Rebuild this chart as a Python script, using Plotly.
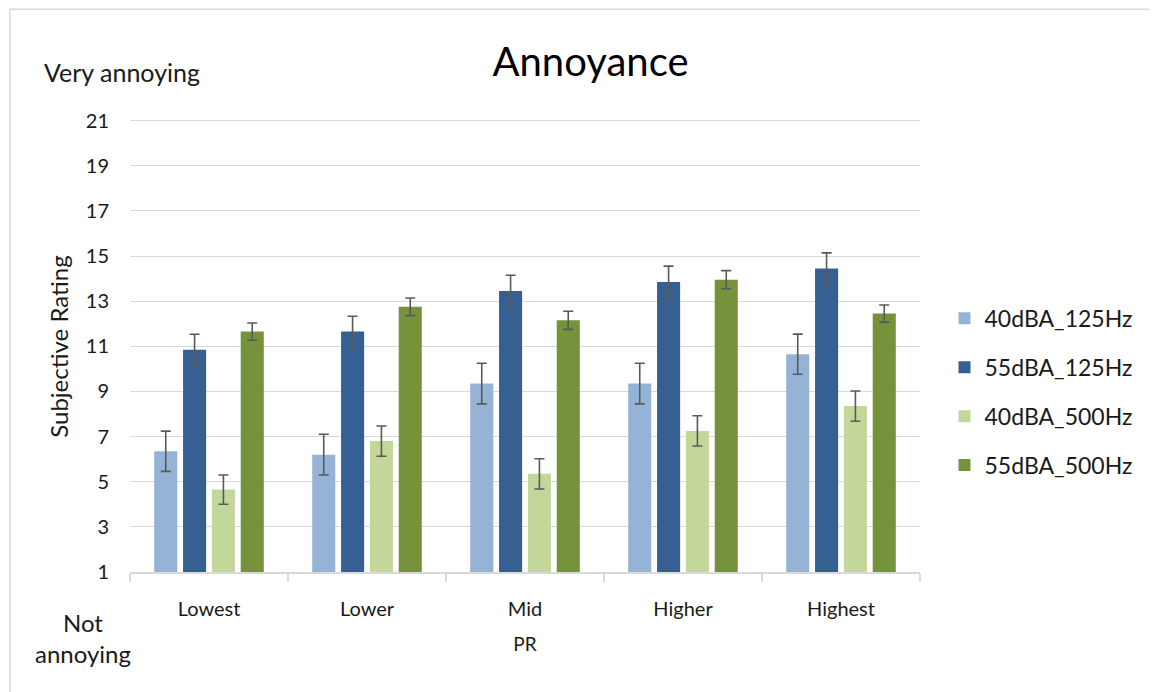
import plotly.graph_objects as go

categories = ["Lowest", "Lower", "Mid", "Higher", "Highest"]
series_names = ["40dBA_125Hz", "55dBA_125Hz", "40dBA_500Hz", "55dBA_500Hz"]
vals_40_125 = [6.35, 6.2, 9.35, 9.35, 10.65]
vals_55_125 = [10.85, 11.65, 13.45, 13.85, 14.45]
vals_40_500 = [4.65, 6.8, 5.35, 7.25, 8.35]
vals_55_500 = [11.65, 12.75, 12.15, 13.95, 12.45]
err_40_125 = [0.89, 0.9, 0.9, 0.9, 0.89]
err_55_125 = [0.68, 0.68, 0.7, 0.7, 0.69]
err_40_500 = [0.65, 0.67, 0.67, 0.67, 0.67]
err_55_500 = [0.38, 0.39, 0.4, 0.4, 0.38]
y_ticks = [1, 3, 5, 7, 9, 11, 13, 15, 17, 19, 21]

colors = ["#95B3D7", "#366092", "#C4D79B", "#76933C"]
values = [vals_40_125, vals_55_125, vals_40_500, vals_55_500]
errors = [err_40_125, err_55_125, err_40_500, err_55_500]

FONT = "Lato, 'Open Sans', sans-serif"
TXT = "#1a1a1a"

fig = go.Figure()
for i, name in enumerate(series_names):
    fig.add_trace(go.Bar(
        x=categories, y=values[i], name=name,
        marker=dict(color=colors[i], line=dict(width=0)),
        error_y=dict(type="data", array=errors[i], visible=True,
                     color="#595959", thickness=1.6, width=5),
        legendgroup=name,
    ))

fig.update_layout(
    width=1149, height=684,
    margin=dict(l=122, r=237, t=90, b=120),
    paper_bgcolor="white", plot_bgcolor="white",
    barmode="group", bargap=0.27, bargroupgap=0.2,
    font=dict(family=FONT, size=20, color=TXT),
    title=dict(text="Annoyance", x=0.507, xanchor="center", y=0.921, yanchor="middle",
               font=dict(family=FONT, size=40, color="#000000")),
    legend=dict(x=1.031, xanchor="left", y=0.38, yanchor="middle",
                traceorder="grouped", tracegroupgap=16,
                font=dict(family=FONT, size=23, color=TXT),
                itemwidth=30),
    showlegend=True,
)

fig.update_xaxes(
    showline=True, linecolor="#D9D9D9", linewidth=1.5,
    ticks="outside", tickson="boundaries", ticklen=8, tickcolor="#D9D9D9", tickwidth=1.5,
    tickfont=dict(family=FONT, size=20, color=TXT), ticklabelstandoff=18,
    title=dict(text="PR", font=dict(family=FONT, size=19, color=TXT), standoff=19),
)
fig.update_yaxes(
    range=[1, 22], tickvals=y_ticks, ticktext=[str(t) for t in y_ticks],
    showgrid=True, gridcolor="#D9D9D9", gridwidth=1.3, zeroline=False, showline=False,
    tickfont=dict(family=FONT, size=20, color=TXT), ticklabelstandoff=20,
)

fig.add_annotation(text="Subjective Rating", textangle=-90, xref="paper", yref="paper",
                   x=-0.09, y=0.475, xanchor="center", yanchor="middle", showarrow=False,
                   font=dict(family=FONT, size=24, color=TXT))
fig.add_annotation(text="Very annoying", xref="paper", yref="paper",
                   x=-0.111, y=1.055, xanchor="left", yanchor="middle", showarrow=False,
                   font=dict(family=FONT, size=25, color=TXT))
fig.add_annotation(text="Not<br>annoying", xref="paper", yref="paper",
                   x=-0.06, y=-0.072, xanchor="center", yanchor="top", showarrow=False,
                   align="center", font=dict(family=FONT, size=24, color=TXT))

# chart border (top and left)
fig.add_shape(type="line", xref="paper", yref="paper", x0=-0.152, x1=1.4, y0=1.187, y1=1.187,
              line=dict(color="#D9D9D9", width=1.5))
fig.add_shape(type="line", xref="paper", yref="paper", x0=-0.152, x1=-0.152, y0=1.187, y1=-0.3,
              line=dict(color="#D9D9D9", width=1.5))

fig.write_html("out.html")
